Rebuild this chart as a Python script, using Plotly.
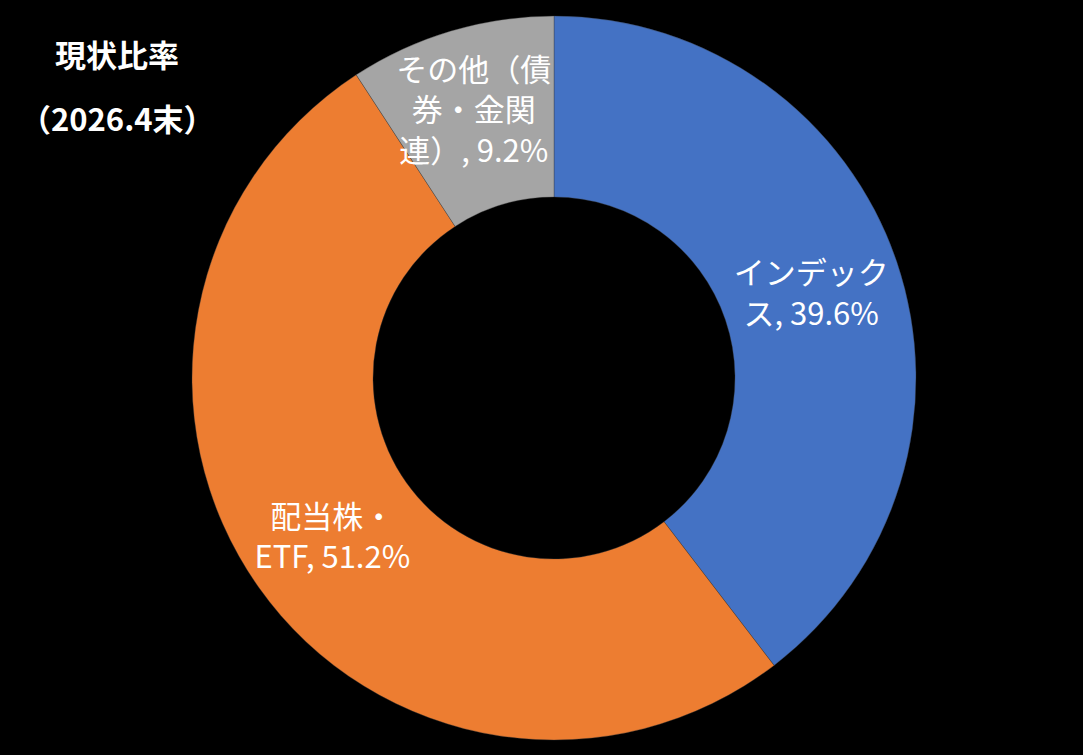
import plotly.graph_objects as go

# 現状比率（2026.4末）
categories = ['インデックス', '配当株・ETF', 'その他（債券・金関連）']
wrapped_labels = ['インデック<br>ス', '配当株・<br>ETF', 'その他（債<br>券・金関<br>連）']
shares = [39.6, 51.2, 9.2]
slice_colors = ['#4472C4', '#ED7D31', '#A5A5A5']
title_lines = ['現状比率', '（2026.4末）']

W, H = 1083, 755
cx, cy, r = 554, 378, 362

fig = go.Figure()
fig.add_pie(
    labels=categories, values=shares, text=wrapped_labels,
    texttemplate='%{text}, %{percent:.1%}',
    textposition='inside', insidetextorientation='horizontal',
    textfont=dict(family='Noto Sans CJK JP', size=31, color='white'),
    marker=dict(colors=slice_colors, line=dict(color='rgba(60,60,60,0.6)', width=0.6)),
    hole=0.5, sort=False, direction='clockwise', rotation=0,
    domain=dict(x=[(cx - r) / W, (cx + r) / W], y=[(H - cy - r) / H, (H - cy + r) / H]),
    hoverinfo='skip', showlegend=False,
)

# title block, top left
for txt, ypx in zip(title_lines, [53, 117]):
    fig.add_annotation(x=117 / W, y=1 - ypx / H, xref='paper', yref='paper',
                       xanchor='center', yanchor='middle', showarrow=False,
                       text='<b>%s</b>' % txt,
                       font=dict(family='Noto Sans CJK JP', size=31, color='white'))

fig.update_layout(
    width=W, height=H, margin=dict(l=0, r=0, t=0, b=0),
    paper_bgcolor='black', plot_bgcolor='black',
    uniformtext=dict(minsize=31, mode='show'),
)
fig.write_html('out.html', config={'displayModeBar': False},
               post_script="document.body.style.margin='0';document.body.style.background='black';")
